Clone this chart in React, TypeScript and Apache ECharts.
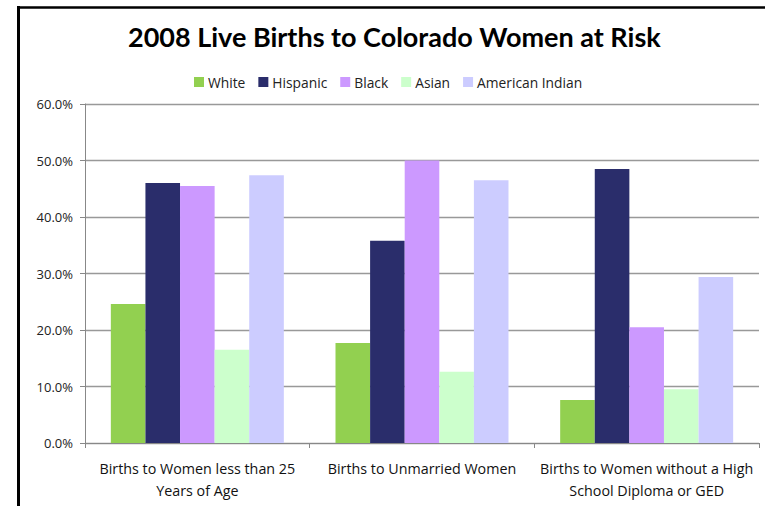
import React, { useEffect, useRef } from "react";
import * as echarts from "echarts";

const categories = [
  "Births to Women less than 25\nYears of Age",
  "Births to Unmarried Women",
  "Births to Women without a High\nSchool Diploma or GED",
];
const seriesNames = ["White", "Hispanic", "Black", "Asian", "American Indian"];
const white = [24.6, 17.7, 7.6];
const hispanic = [46.0, 35.8, 48.5];
const black = [45.5, 50.0, 20.5];
const asian = [16.5, 12.6, 9.5];
const americanIndian = [47.4, 46.5, 29.4];
const colors = ["#92D050", "#2A2D6B", "#CC99FF", "#CCFFCC", "#CCCCFF"];
const yTicks = [0, 10, 20, 30, 40, 50, 60];

const TITLE_FONT = "Lato, 'Open Sans', sans-serif";
const FONT = "'Open Sans', Lato, sans-serif";

export default function App() {
  const ref = useRef<HTMLDivElement>(null);
  useEffect(() => {
    if (!ref.current) return;
    const chart = echarts.init(ref.current, undefined, { renderer: "svg" });
    const values = [white, hispanic, black, asian, americanIndian];
    chart.setOption({
      animation: false,
      backgroundColor: "#ffffff",
      title: {
        text: "2008 Live Births to Colorado Women at Risk",
        left: 128,
        top: 23,
        padding: 0,
        textStyle: { fontFamily: TITLE_FONT, fontWeight: "bold", fontSize: 27, color: "#000" },
      },
      legend: {
        data: seriesNames,
        top: 75,
        left: 194,
        padding: 0,
        icon: "rect",
        itemWidth: 10,
        itemHeight: 10,
        itemGap: 13,
        textStyle: { fontFamily: FONT, fontSize: 13.8, color: "#222", padding: [0, 0, 0, -1] },
      },
      graphic: [
        {
          type: "line",
          shape: { x1: 18.5, y1: 6, x2: 18.5, y2: 520 },
          style: { stroke: "#000", lineWidth: 3 },
          silent: true,
        },
        {
          type: "line",
          shape: { x1: 17, y1: 7.5, x2: 780, y2: 7.5 },
          style: { stroke: "#000", lineWidth: 2.5 },
          silent: true,
        },
      ],
      grid: { left: 85, right: 6, top: 104, bottom: 63, containLabel: false },
      xAxis: {
        type: "category",
        data: categories,
        axisLine: { lineStyle: { color: "#888", width: 1 } },
        axisTick: { show: true, length: 5, lineStyle: { color: "#888" } },
        axisLabel: {
          interval: 0,
          margin: 14,
          lineHeight: 22,
          fontFamily: FONT,
          fontSize: 14.3,
          color: "#111",
        },
      },
      yAxis: {
        type: "value",
        min: yTicks[0],
        max: yTicks[yTicks.length - 1],
        interval: 10,
        axisLine: { show: true, lineStyle: { color: "#888", width: 1 } },
        axisTick: { show: true, length: 5, lineStyle: { color: "#888" } },
        splitLine: { lineStyle: { color: "#999", width: 1.3 } },
        axisLabel: {
          margin: 12,
          formatter: (v: number) => v.toFixed(1) + "%",
          fontFamily: FONT,
          fontSize: 13,
          color: "#222",
        },
      },
      series: seriesNames.map((name, i) => ({
        name,
        type: "bar",
        data: values[i],
        barGap: "0%",
        barCategoryGap: "23%",
        itemStyle: { color: colors[i] },
      })),
    });
    return () => chart.dispose();
  }, []);
  return (
    <div
      ref={ref}
      style={{ position: "absolute", left: 0, top: 0, width: 765, height: 506 }}
    />
  );
}
